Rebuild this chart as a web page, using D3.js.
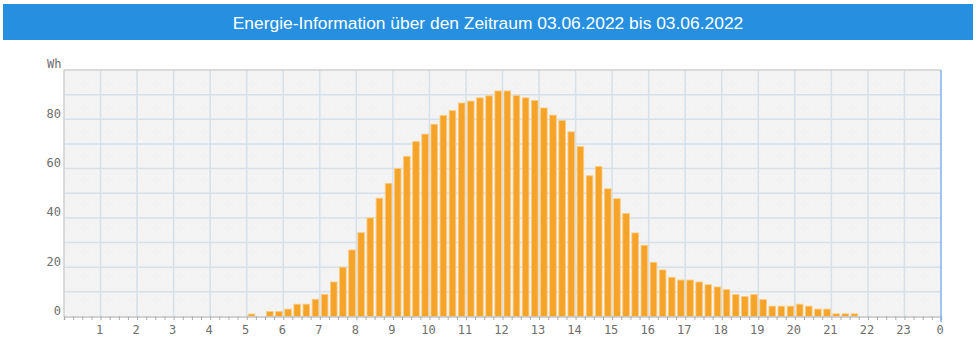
<!DOCTYPE html>
<html>
<head>
<meta charset="utf-8">
<script src="https://cdn.jsdelivr.net/npm/d3@7"></script>
<style>
  body { margin: 0; background: #fff; }
  svg { display: block; }
</style>
</head>
<body>
<div id="chart"></div>
<script>
// Energy per 15-minute interval, 03.06.2022

const titleText = "Energie-Information über den Zeitraum 03.06.2022 bis 03.06.2022";
const unitLabel = "Wh";

// one value per quarter hour, 00:00 .. 23:45
const energyWh = [
  0, 0, 0, 0,  0, 0, 0, 0,  0, 0, 0, 0,  0, 0, 0, 0,  0, 0, 0, 0,   // 0-4
  1, 0, 2, 2,                                                      // 5
  3, 5, 5, 7,                                                      // 6
  9, 14, 20, 27,                                                   // 7
  34, 40, 48, 54,                                                  // 8
  60, 65, 71, 74,                                                  // 9
  78, 81.6, 83.5, 86.6,                                            // 10
  87.4, 88.7, 89.5, 91.5,                                          // 11
  91.5, 89.6, 88.7, 87.6,                                          // 12
  84.6, 81.7, 79.5, 74.9,                                          // 13
  68.9, 57.1, 60.9, 51.8,                                          // 14
  47.8, 41.8, 33.9, 28.9,                                          // 15
  22, 18.9, 15.9, 14.8,                                            // 16
  14.8, 14, 12.9, 12,                                              // 17
  10.9, 8.9, 8.1, 8.9,                                             // 18
  6.9, 4.2, 4.2, 4.2,                                              // 19
  5, 4.2, 3, 3,                                                    // 20
  1.1, 1.1, 1.1, 0,                                                // 21
  0, 0, 0, 0,  0, 0, 0, 0                                          // 22-23
];

const hourTicks = d3.range(1, 25);
const hourLabels = hourTicks.map(h => String(h % 24));
const yTicks = [0, 20, 40, 60, 80];
const yGrid = d3.range(0, 101, 10);

const W = 977, H = 351;
const plot = { left: 64, right: 941, top: 70, bottom: 316.5 };

const svg = d3.select("#chart").append("svg")
  .attr("width", W)
  .attr("height", H);

// title bar
svg.append("rect")
  .attr("x", 3).attr("y", 4)
  .attr("width", 970).attr("height", 36)
  .attr("fill", "#268fdf");

svg.append("text")
  .attr("x", 488).attr("y", 28.5)
  .attr("text-anchor", "middle")
  .style("font-family", "'Liberation Sans', Arial, sans-serif")
  .style("font-size", "17.4px")
  .style("fill", "#fff")
  .text(titleText);

const x = d3.scaleLinear().domain([0, 24]).range([plot.left, plot.right]);
const y = d3.scaleLinear().domain([0, 100]).range([plot.bottom, plot.top]);

// plot background with faint dots
const defs = svg.append("defs");
const pat = defs.append("pattern")
  .attr("id", "dots")
  .attr("width", 6).attr("height", 6)
  .attr("patternUnits", "userSpaceOnUse");
pat.append("rect").attr("width", 6).attr("height", 6).attr("fill", "#f3f3f3");
pat.append("rect").attr("x", 2).attr("y", 3).attr("width", 1).attr("height", 1).attr("fill", "#fbfbfb");

svg.append("rect")
  .attr("x", plot.left).attr("y", plot.top)
  .attr("width", plot.right - plot.left)
  .attr("height", plot.bottom - plot.top)
  .attr("fill", "url(#dots)");

// grid
svg.append("g")
  .selectAll("line")
  .data(yGrid.filter(d => d > 0 && d < 100))
  .join("line")
  .attr("x1", plot.left).attr("x2", plot.right)
  .attr("y1", d => y(d)).attr("y2", d => y(d))
  .attr("stroke", "#d6e0e8")
  .attr("stroke-width", 1.5);

svg.append("g")
  .selectAll("line")
  .data(hourTicks.slice(0, -1))
  .join("line")
  .attr("x1", d => x(d)).attr("x2", d => x(d))
  .attr("y1", plot.top).attr("y2", plot.bottom)
  .attr("stroke", "#d6e0e8")
  .attr("stroke-width", 1.5);

// frame
svg.append("line")
  .attr("x1", plot.left).attr("x2", plot.right)
  .attr("y1", plot.top).attr("y2", plot.top)
  .attr("stroke", "#cfcfcf").attr("stroke-width", 1.5);
svg.append("line")
  .attr("x1", plot.left).attr("x2", plot.left)
  .attr("y1", plot.top).attr("y2", plot.bottom)
  .attr("stroke", "#cfcfcf").attr("stroke-width", 1.5);

// bars
const step = x(0.25) - x(0);
svg.append("g")
  .selectAll("rect")
  .data(energyWh.map((v, i) => ({ t: i / 4, v })).filter(d => d.v > 0))
  .join("rect")
  .attr("x", d => x(d.t) + 1.5)
  .attr("width", step - 2.5)
  .attr("y", d => y(d.v))
  .attr("height", d => y(0) - y(d.v))
  .attr("fill", "#f6a429")
  .attr("stroke", "#fbcd82")
  .attr("stroke-width", 0.8);

// x axis
const xAxis = d3.axisBottom(x)
  .tickValues(d3.range(0, 24.01, 0.25))
  .tickSize(3.5)
  .tickFormat("");

const gx = svg.append("g")
  .attr("transform", `translate(0,${plot.bottom})`)
  .call(xAxis);
gx.select(".domain").attr("stroke", "#c4c4c4").attr("stroke-width", 1.5);
gx.selectAll(".tick line").attr("stroke", "#aaa");

svg.append("g")
  .selectAll("text")
  .data(hourTicks)
  .join("text")
  .attr("x", (d, i) => x(d) - 1)
  .attr("y", 334)
  .attr("text-anchor", "middle")
  .style("font-family", "'DejaVu Sans Mono', monospace")
  .style("font-size", "12px")
  .style("fill", "#6e6e6e")
  .text((d, i) => hourLabels[i]);

// y labels
svg.append("g")
  .selectAll("text")
  .data(yTicks)
  .join("text")
  .attr("x", 61)
  .attr("y", d => y(d) - 1.5)
  .attr("text-anchor", "end")
  .style("font-family", "'DejaVu Sans Mono', monospace")
  .style("font-size", "12px")
  .style("fill", "#6e6e6e")
  .text(d => d);

svg.append("text")
  .attr("x", 61.5).attr("y", 68)
  .attr("text-anchor", "end")
  .style("font-family", "'DejaVu Sans Mono', monospace")
  .style("font-size", "12px")
  .style("fill", "#6e6e6e")
  .text(unitLabel);

// right edge marker
svg.append("line")
  .attr("x1", plot.right).attr("x2", plot.right)
  .attr("y1", plot.top).attr("y2", 322)
  .attr("stroke", "#7fb2ec")
  .attr("stroke-width", 1.5);
</script>
</body>
</html>
